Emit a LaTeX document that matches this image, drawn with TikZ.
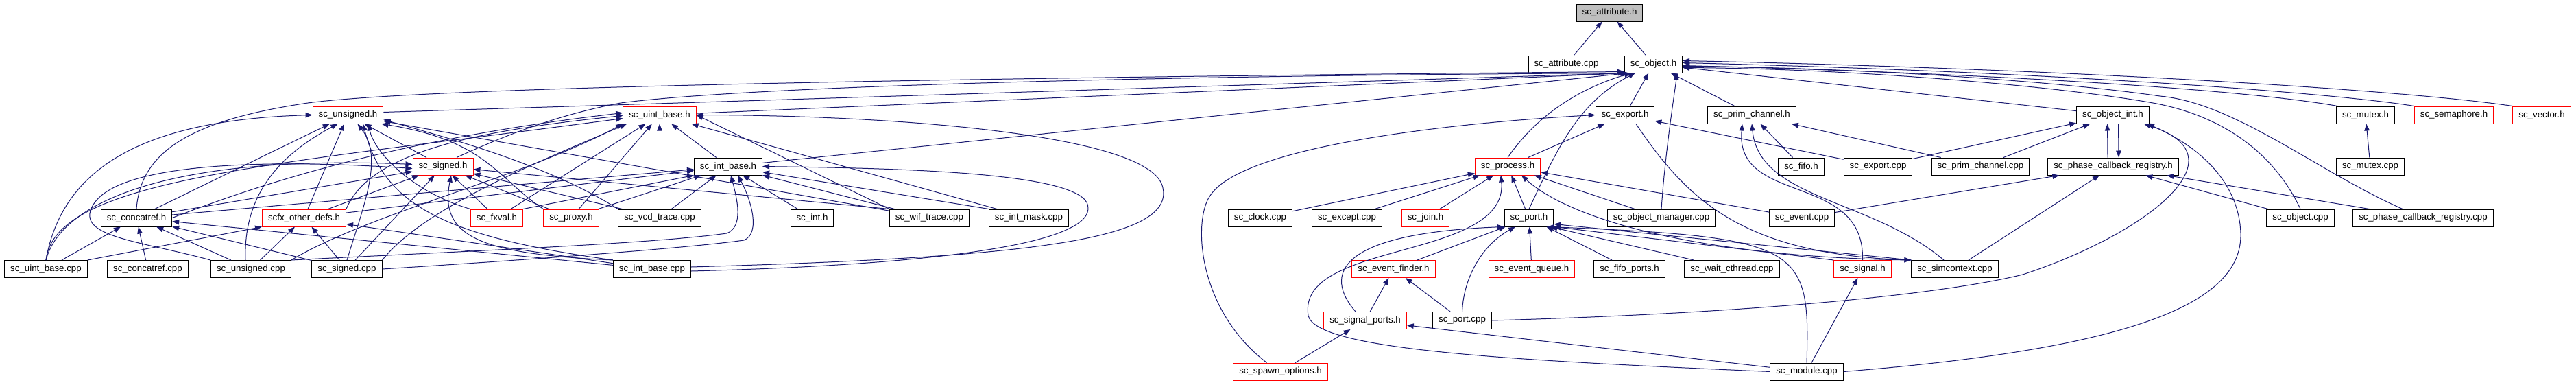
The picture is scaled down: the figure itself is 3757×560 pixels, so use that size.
\documentclass[tikz,border=0pt]{standalone}
\usepackage{fontspec}
\setmainfont{Liberation Sans}
\definecolor{EdgeBlue}{HTML}{191970}
\definecolor{RootGray}{HTML}{BFBFBF}
\definecolor{TruncRed}{HTML}{FF0000}
\usetikzlibrary{arrows.meta}
\tikzset{
  filebox/.style={draw=black, line width=1pt, fill=white, minimum height=25pt, inner xsep=8.5pt, inner ysep=0pt, font=\fontsize{13.3}{16}\selectfont},
  redbox/.style={filebox, draw=TruncRed},
  rootbox/.style={filebox, fill=RootGray},
  incl/.style={-{Triangle[length=10pt,width=7.5pt]}, draw=EdgeBlue, line width=1pt}
}

\begin{document}
\begin{tikzpicture}[x=1pt, y=-1pt]
\path[fill=white] (0,0) rectangle (3757,560);
\useasboundingbox (0,0) rectangle (3757,560);

\node[rootbox] (attr_h) at (2347.5,18.5) {sc\_attribute.h};
\node[filebox] (attr_cpp) at (2284.5,93.5) {sc\_attribute.cpp};
\node[filebox] (object_h) at (2411.5,93.5) {sc\_object.h};

\node[redbox] (unsigned_h) at (507.5,167.5) {sc\_unsigned.h};
\node[redbox] (uintbase_h) at (962,167.5) {sc\_uint\_base.h};
\node[filebox] (export_h) at (2370,167.5) {sc\_export.h};
\node[filebox] (primch_h) at (2555,167.5) {sc\_prim\_channel.h};
\node[filebox] (objint_h) at (3081.5,167.5) {sc\_object\_int.h};
\node[filebox] (mutex_h) at (3450,167.5) {sc\_mutex.h};
\node[redbox] (semaphore_h) at (3579,167.5) {sc\_semaphore.h};
\node[redbox] (vector_h) at (3707,167.5) {sc\_vector.h};

\node[redbox] (signed_h) at (646,242.5) {sc\_signed.h};
\node[filebox] (intbase_h) at (1062,242.5) {sc\_int\_base.h};
\node[redbox] (process_h) at (2199,242.5) {sc\_process.h};
\node[filebox] (fifo_h) at (2627,242.5) {sc\_fifo.h};
\node[filebox] (export_cpp) at (2739,242.5) {sc\_export.cpp};
\node[filebox] (primch_cpp) at (2888.5,242.5) {sc\_prim\_channel.cpp};
\node[filebox] (phasecb_h) at (3082,242.5) {sc\_phase\_callback\_registry.h};
\node[filebox] (mutex_cpp) at (3457,242.5) {sc\_mutex.cpp};

\node[filebox] (concatref_h) at (199,317.5) {sc\_concatref.h};
\node[redbox] (scfxdefs_h) at (443.5,317.5) {scfx\_other\_defs.h};
\node[redbox] (fxval_h) at (724.5,317.5) {sc\_fxval.h};
\node[redbox] (proxy_h) at (833,317.5) {sc\_proxy.h};
\node[filebox] (vcd_cpp) at (962,317.5) {sc\_vcd\_trace.cpp};
\node[filebox] (int_h) at (1184.5,317.5) {sc\_int.h};
\node[filebox] (wif_cpp) at (1355.5,317.5) {sc\_wif\_trace.cpp};
\node[filebox] (intmask_cpp) at (1500.5,317.5) {sc\_int\_mask.cpp};
\node[filebox] (clock_cpp) at (1838,317.5) {sc\_clock.cpp};
\node[filebox] (except_cpp) at (1964.5,317.5) {sc\_except.cpp};
\node[redbox] (join_h) at (2079,317.5) {sc\_join.h};
\node[filebox] (port_h) at (2230,317.5) {sc\_port.h};
\node[filebox] (objmgr_cpp) at (2423,317.5) {sc\_object\_manager.cpp};
\node[filebox] (event_cpp) at (2628,317.5) {sc\_event.cpp};
\node[filebox] (object_cpp) at (3355,317.5) {sc\_object.cpp};
\node[filebox] (phasecb_cpp) at (3534,317.5) {sc\_phase\_callback\_registry.cpp};

\node[filebox] (uintbase_cpp) at (67,392) {sc\_uint\_base.cpp};
\node[filebox] (concatref_cpp) at (215.5,392) {sc\_concatref.cpp};
\node[filebox] (unsigned_cpp) at (366,392) {sc\_unsigned.cpp};
\node[filebox] (signed_cpp) at (506,392) {sc\_signed.cpp};
\node[filebox] (intbase_cpp) at (951,392) {sc\_int\_base.cpp};
\node[redbox] (evfinder_h) at (2032.5,392) {sc\_event\_finder.h};
\node[redbox] (evqueue_h) at (2234,392) {sc\_event\_queue.h};
\node[filebox] (fifoports_h) at (2376.5,392) {sc\_fifo\_ports.h};
\node[filebox] (waitcth_cpp) at (2526,392) {sc\_wait\_cthread.cpp};
\node[redbox] (signal_h) at (2716.5,392) {sc\_signal.h};
\node[filebox] (simctx_cpp) at (2851,392) {sc\_simcontext.cpp};

\node[redbox] (sigports_h) at (1991,467) {sc\_signal\_ports.h};
\node[filebox] (port_cpp) at (2132.5,467) {sc\_port.cpp};

\node[redbox] (spawnopt_h) at (1867.5,541.5) {sc\_spawn\_options.h};
\node[filebox] (module_cpp) at (2635,541.5) {sc\_module.cpp};

\draw[incl] (attr_cpp) -- (attr_h);
\draw[incl] (object_h) -- (attr_h);

\draw[incl] ([yshift=4pt]unsigned_h.east) -- ([xshift=3pt]object_h.south west);
\draw[incl] (uintbase_h) -- ([xshift=5pt]object_h.south west);
\draw[incl] (intbase_h) -- ([xshift=7pt]object_h.south west);
\draw[incl] ([xshift=20pt]signed_h.north) .. controls (720,205) and (800,170) .. (905,150) .. controls (1100,125) and (1700,110) .. ([xshift=1pt]object_h.south west);
\draw[incl] (concatref_h.north) .. controls (205,220) and (280,175) .. (449,150) .. controls (600,130) and (1200,115) .. ([yshift=2pt]object_h.south west);
\draw[incl] (process_h.north) .. controls (2240,170) and (2300,130) .. ([xshift=10pt]object_h.south west);
\draw[incl] (port_h.north) .. controls (2270,220) and (2300,150) .. ([xshift=16pt]object_h.south west);
\draw[incl] (export_h) -- (object_h);
\draw[incl] (objmgr_cpp.north) .. controls (2428,230) and (2440,150) .. ([xshift=-8pt]object_h.south east);
\draw[incl] (primch_h) -- (object_h);
\draw[incl] (objint_h) -- (object_h);
\draw[incl] ([xshift=2pt]mutex_h.north west) .. controls (3300,135) and (3000,110) .. ([yshift=-2pt]object_h.east);
\draw[incl] (semaphore_h.north west) .. controls (3400,135) and (3000,105) .. ([yshift=2pt]object_h.east);
\draw[incl] (vector_h.north west) .. controls (3500,130) and (3000,100) .. ([yshift=5pt]object_h.east);
\draw[incl] (object_cpp.north) .. controls (3320,230) and (3250,170) .. (3140,150) .. controls (3000,125) and (2700,100) .. ([yshift=-5pt]object_h.east);
\draw[incl] ([xshift=-30pt]phasecb_cpp.north) .. controls (3380,250) and (3260,150) .. (3150,140) .. controls (3000,118) and (2700,98) .. ([yshift=-3pt]object_h.east);

\draw[incl] (process_h) -- (export_h);
\draw[incl] (export_cpp) -- (export_h);
\draw[incl] ([xshift=16pt]export_h.south) .. controls (2460,290) and (2540,370) .. (simctx_cpp.north west);
\draw[incl] ([xshift=-20pt]spawnopt_h.north) .. controls (1745,450) and (1740,320) .. (1765,285) .. controls (1810,215) and (2100,180) .. (export_h.west);

\draw[incl] (fifo_h) -- (primch_h);
\draw[incl] (primch_cpp) -- (primch_h);
\draw[incl] (signal_h.north) .. controls (2720,250) and (2530,300) .. ([xshift=-14pt]primch_h.south);
\draw[incl] ([xshift=-16pt]simctx_cpp.north) .. controls (2730,290) and (2565,290) .. (primch_h.south);

\draw[incl] (export_cpp) -- (objint_h);
\draw[incl] (primch_cpp) -- (objint_h);
\draw[incl] ([xshift=-8pt]phasecb_h.north) -- ([xshift=-8pt]objint_h.south);
\draw[incl] ([xshift=8pt]objint_h.south) -- ([xshift=8pt]phasecb_h.north);
\draw[incl] (port_cpp.east) .. controls (2600,455) and (2850,425) .. (2950,400) .. controls (3120,345) and (3280,230) .. ([xshift=-8pt]objint_h.south east);
\draw[incl] (module_cpp.east) .. controls (3150,505) and (3270,430) .. (3268,340) .. controls (3265,260) and (3200,210) .. ([xshift=-3pt]objint_h.south east);

\draw[incl] (event_cpp) -- (phasecb_h);
\draw[incl] (simctx_cpp) -- (phasecb_h);
\draw[incl] (object_cpp) -- (phasecb_h);
\draw[incl] (phasecb_cpp) -- (phasecb_h);
\draw[incl] (mutex_cpp) -- (mutex_h);

\draw[incl] (clock_cpp) -- (process_h);
\draw[incl] (except_cpp) -- (process_h);
\draw[incl] (join_h) -- (process_h);
\draw[incl] (port_h) -- (process_h);
\draw[incl] (objmgr_cpp) -- (process_h);
\draw[incl] (event_cpp) -- (process_h);
\draw[incl] (simctx_cpp.north west) .. controls (2480,375) and (2290,320) .. ([xshift=20pt]process_h.south);
\draw[incl] (module_cpp.west) .. controls (2200,525) and (1920,510) .. (1908,460) .. controls (1890,350) and (2200,380) .. ([xshift=-10pt]process_h.south);

\draw[incl] (evfinder_h) -- (port_h);
\draw[incl] (evqueue_h) -- (port_h);
\draw[incl] (fifoports_h) -- (port_h);
\draw[incl] (waitcth_cpp) -- ([xshift=-5pt]port_h.south east);
\draw[incl] (signal_h.north west) -- (port_h.south east);
\draw[incl] (simctx_cpp.north west) -- ([yshift=4pt]port_h.south east);
\draw[incl] (port_cpp.north) .. controls (2135,400) and (2165,355) .. ([xshift=-20pt]port_h.south);
\draw[incl] ([xshift=-14pt]sigports_h.north) .. controls (1930,400) and (1950,340) .. (port_h.south west);
\draw[incl] (module_cpp.north) .. controls (2640,360) and (2630,345) .. ([xshift=-10pt]port_h.south east);

\draw[incl] (sigports_h) -- (evfinder_h);
\draw[incl] (port_cpp) -- (evfinder_h);
\draw[incl] (spawnopt_h) -- (sigports_h);
\draw[incl] (module_cpp) -- (sigports_h);
\draw[incl] (module_cpp) -- (signal_h);

\draw[incl] (signed_h) -- (unsigned_h);
\draw[incl] (intbase_h) -- (uintbase_h);

\draw[incl] (concatref_h) -- (unsigned_h);
\draw[incl] (concatref_h) -- (signed_h);
\draw[incl] (concatref_h.east) .. controls (400,260) and (600,200) .. ([yshift=3pt]uintbase_h.west);
\draw[incl] (concatref_h) -- (intbase_h);

\draw[incl] (scfxdefs_h) -- (unsigned_h);
\draw[incl] (scfxdefs_h) -- (signed_h);
\draw[incl] (scfxdefs_h.north east) .. controls (540,220) and (700,190) .. ([yshift=-1pt]uintbase_h.west);
\draw[incl] (scfxdefs_h) -- (intbase_h);

\draw[incl] (fxval_h.north west) .. controls (600,280) and (545,220) .. ([xshift=30pt]unsigned_h.south);
\draw[incl] (fxval_h) -- (signed_h);
\draw[incl] (fxval_h) -- (uintbase_h);
\draw[incl] (fxval_h.north east) -- (intbase_h.south west);

\draw[incl] (proxy_h.north west) .. controls (725,260) and (710,205) .. ([xshift=-3pt]unsigned_h.south east);
\draw[incl] (proxy_h) -- (signed_h);
\draw[incl] (proxy_h) -- (uintbase_h);
\draw[incl] (proxy_h) -- (intbase_h);

\draw[incl] (vcd_cpp.north west) .. controls (800,240) and (650,200) .. ([yshift=6pt]unsigned_h.south east);
\draw[incl] (vcd_cpp) -- (signed_h);
\draw[incl] (vcd_cpp) -- (uintbase_h);
\draw[incl] (vcd_cpp) -- (intbase_h);

\draw[incl] (wif_cpp) -- (unsigned_h);
\draw[incl] (wif_cpp.north west) -- (signed_h);
\draw[incl] (wif_cpp.north west) -- (uintbase_h.east);
\draw[incl] (wif_cpp) -- (intbase_h);

\draw[incl] (int_h) -- (intbase_h);
\draw[incl] (intmask_cpp.north west) -- (intbase_h);
\draw[incl] (intmask_cpp) -- (uintbase_h);

\draw[incl] (uintbase_cpp.north) .. controls (90,250) and (200,175) .. (unsigned_h.west);
\draw[incl] (uintbase_cpp.north) .. controls (90,290) and (260,225) .. ([yshift=3pt]signed_h.west);
\draw[incl] (uintbase_cpp.north) .. controls (80,260) and (400,240) .. ([yshift=-5pt]uintbase_h.west);
\draw[incl] (uintbase_cpp) -- (concatref_h);
\draw[incl] (uintbase_cpp.north east) -- (scfxdefs_h.south west);

\draw[incl] (concatref_cpp) -- (concatref_h);

\draw[incl] (unsigned_cpp) -- (concatref_h);
\draw[incl] (unsigned_cpp) -- (scfxdefs_h);
\draw[incl] ([xshift=-8pt]unsigned_cpp.north) .. controls (355,290) and (400,230) .. ([xshift=-15pt]unsigned_h.south);
\draw[incl] (unsigned_cpp.north west) .. controls (200,350) and (110,345) .. (135,300) .. controls (170,235) and (400,232) .. ([yshift=-3pt]signed_h.west);
\draw[incl] (unsigned_cpp.north east) .. controls (540,310) and (760,260) .. (uintbase_h.south west);
\draw[incl] (unsigned_cpp.north east) .. controls (700,365) and (950,355) .. (1060,340) .. controls (1085,330) and (1075,290) .. ([xshift=4pt]intbase_h.south);

\draw[incl] (signed_cpp) -- (concatref_h);
\draw[incl] (signed_cpp) -- (scfxdefs_h);
\draw[incl] (signed_cpp) -- (signed_h);
\draw[incl] (signed_cpp.north) .. controls (530,300) and (560,230) .. ([xshift=14pt]unsigned_h.south);
\draw[incl] (signed_cpp.north east) .. controls (620,300) and (800,230) .. ([xshift=6pt]uintbase_h.south west);
\draw[incl] (signed_cpp.east) .. controls (750,380) and (1000,362) .. (1085,350) .. controls (1110,340) and (1095,290) .. ([xshift=14pt]intbase_h.south);

\draw[incl] (intbase_cpp) -- (concatref_h);
\draw[incl] (intbase_cpp) -- (scfxdefs_h);
\draw[incl] (intbase_cpp.north west) .. controls (700,370) and (640,345) .. ([xshift=12pt]signed_h.south);
\draw[incl] (intbase_cpp.north west) .. controls (650,345) and (560,300) .. ([xshift=22pt]unsigned_h.south);
\draw[incl] ([yshift=3pt]intbase_cpp.east) .. controls (1500,375) and (1720,350) .. (1695,270) .. controls (1670,195) and (1300,168) .. (uintbase_h.east);
\draw[incl] ([yshift=-3pt]intbase_cpp.east) .. controls (1400,385) and (1610,350) .. (1585,295) .. controls (1560,250) and (1300,245) .. (intbase_h.east);
\end{tikzpicture}
\end{document}
